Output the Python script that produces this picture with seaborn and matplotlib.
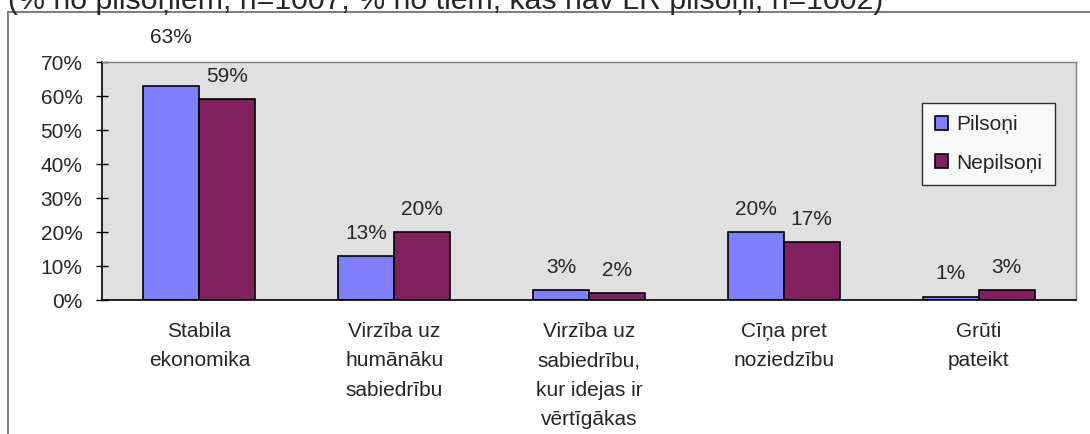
import matplotlib
matplotlib.use("Agg")
import matplotlib.pyplot as plt
from matplotlib.patches import Rectangle
from matplotlib.ticker import FixedLocator, PercentFormatter
import seaborn as sns
import pandas as pd

categories = [
    "Stabila\nekonomika",
    "Virzība uz\nhumānāku\nsabiedrību",
    "Virzība uz\nsabiedrību,\nkur idejas ir\nvērtīgākas",
    "Cīņa pret\nnoziedzību",
    "Grūti\npateikt",
]
pilsoni = [63, 13, 3, 20, 1]
nepilsoni = [59, 20, 2, 17, 3]
series_names = ["Pilsoņi", "Nepilsoņi"]
subtitle = "(% no pilsoņiem, n=1007; % no tiem, kas nav LR pilsoņi, n=1002)"

df = pd.DataFrame({
    "cat": categories * 2,
    "val": pilsoni + nepilsoni,
    "grp": [series_names[0]] * len(categories) + [series_names[1]] * len(categories),
})

sns.set_theme(style="white")
plt.rcParams["font.family"] = ["Liberation Sans", "DejaVu Sans"]

FS = 15
W, H = 1090, 434
fig = plt.figure(figsize=(W / 100, H / 100), dpi=100)
ax = fig.add_axes([102 / W, 1 - 300 / H, (1076 - 102) / W, (300 - 62) / H])

palette = {"Pilsoņi": "#8080FF", "Nepilsoņi": "#80205F"}
sns.barplot(data=df, x="cat", y="val", hue="grp", palette=palette, ax=ax,
            width=0.575, edgecolor="black", linewidth=1.2, saturation=1,
            legend=True)

ax.set_facecolor("#E0E0E0")
ax.set_ylim(0, 70)
ax.set_xlim(-0.5, len(categories) - 0.5)
ax.yaxis.set_major_locator(FixedLocator(range(0, 71, 10)))
ax.yaxis.set_major_formatter(PercentFormatter(decimals=0))
ax.set_xlabel("")
ax.set_ylabel("")

# category labels below, boundaries as tick marks
ax.set_xticks(range(len(categories)))
ax.set_xticklabels(categories, fontsize=FS, linespacing=1.68, va="top")
ax.tick_params(axis="x", length=0, pad=16)
ax.set_xticks([i - 0.5 for i in range(len(categories) + 1)], minor=True)
ax.tick_params(axis="x", which="minor", length=6, direction="out", color="black", width=1)
ax.tick_params(axis="y", length=8, direction="inout", color="black", width=1,
               labelsize=FS, pad=10, left=True)

for side in ["top", "right"]:
    ax.spines[side].set_color("#808080")
    ax.spines[side].set_linewidth(1)
for side in ["left", "bottom"]:
    ax.spines[side].set_color("black")
    ax.spines[side].set_linewidth(1.2)

# value labels above bars; a label that would touch the top edge is lifted clear of it
for cont in ax.containers:
    labels = ax.bar_label(cont, fmt="%d%%", padding=9.5, fontsize=FS)
    for bar, lab in zip(cont.patches, labels):
        if bar.get_height() > 60:
            lab.xyann = (0, 28)

leg = ax.legend(loc="upper right", bbox_to_anchor=(1055 / W, 1 - 103 / H),
                bbox_transform=fig.transFigure, frameon=True, fancybox=False,
                fontsize=FS, handlelength=0.65, handleheight=0.65,
                handletextpad=0.4, labelspacing=0.92, borderpad=0.6,
                borderaxespad=0, title=None, edgecolor="black")
leg.get_frame().set_linewidth(1)
leg.get_frame().set_facecolor("white")

# outer chart frame (clipped by the image edges)
fig.patches.append(Rectangle((8 / W, -0.05), 1.1, 1 - 12 / H + 0.05,
                             transform=fig.transFigure, fill=False,
                             edgecolor="#808080", linewidth=1.5))

fig.text(8 / W, 1 - 9 / H, subtitle, fontsize=21.8, ha="left", va="baseline")

fig.savefig("out.png", dpi=100)
